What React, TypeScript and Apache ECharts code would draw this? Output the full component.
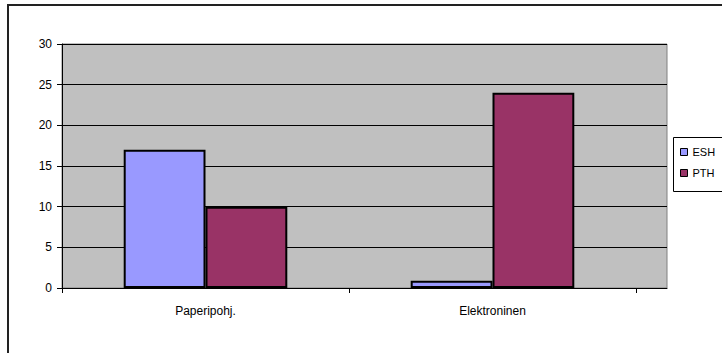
import React, { useEffect, useRef } from "react";
import * as echarts from "echarts";

const categories = ["Paperipohj.", "Elektroninen"];
const eshValues = [17, 0.9];
const pthValues = [10, 24];
const yTicks = { min: 0, max: 30, interval: 5 };

export default function App() {
  const ref = useRef<HTMLDivElement>(null);
  useEffect(() => {
    document.body.style.margin = "0";
    const chart = echarts.init(ref.current!, null, { renderer: "svg" });
    const font = "'Liberation Sans', Arial, sans-serif";
    chart.setOption({
      animation: false,
      backgroundColor: "#ffffff",
      textStyle: { fontFamily: font },
      graphic: [
        {
          type: "rect",
          shape: { x: 8, y: 5, width: 800, height: 400 },
          style: { fill: "none", stroke: "#222", lineWidth: 2 },
          silent: true,
          z: 0,
        },
        {
          type: "rect",
          shape: { x: 673.5, y: 137.5, width: 100, height: 54 },
          style: { fill: "#fff", stroke: "#000", lineWidth: 1 },
          silent: true,
          z: 0,
        },
      ],
      grid: [
        {
          left: 62,
          top: 44,
          width: 574,
          height: 244,
          show: false,
          containLabel: false,
        },
        {
          left: 62,
          top: 44,
          width: 605,
          height: 244,
          show: true,
          backgroundColor: "#C0C0C0",
          borderColor: "#808080",
          borderWidth: 1,
          containLabel: false,
        },
      ],
      legend: {
        orient: "vertical",
        left: 680,
        top: 146,
        itemWidth: 7,
        itemHeight: 7,
        itemGap: 9,
        icon: "rect",
        padding: 0,
        z: 5,
        itemStyle: { borderColor: "#000", borderWidth: 1 },
        textStyle: { fontFamily: font, fontSize: 11, color: "#000", lineHeight: 12 },
        data: ["ESH", "PTH"],
      },
      xAxis: [
        {
          type: "category",
          gridIndex: 0,
          data: categories,
          z: 3,
          axisLine: { show: true, lineStyle: { color: "#000", width: 1 } },
          axisTick: { show: true, length: 5, lineStyle: { color: "#000" } },
          axisLabel: { color: "#000", fontSize: 12, margin: 17, fontFamily: font },
          splitLine: { show: false },
        },
        {
          type: "value",
          gridIndex: 1,
          min: 0,
          max: 1,
          z: 3,
          axisLine: { show: true, onZero: false, lineStyle: { color: "#000", width: 1 } },
          axisTick: { show: false },
          axisLabel: { show: false },
          splitLine: { show: false },
        },
      ],
      yAxis: [
        {
          type: "value",
          gridIndex: 0,
          min: yTicks.min,
          max: yTicks.max,
          interval: yTicks.interval,
          axisLine: { show: false },
          axisTick: { show: false },
          axisLabel: { show: false },
          splitLine: { show: false },
        },
        {
          type: "value",
          gridIndex: 1,
          min: yTicks.min,
          max: yTicks.max,
          interval: yTicks.interval,
          z: 3,
          axisLine: { show: true, lineStyle: { color: "#000", width: 1 } },
          axisTick: { show: true, length: 5, lineStyle: { color: "#000" } },
          axisLabel: { color: "#000", fontSize: 12, margin: 10, fontFamily: font },
          splitLine: { show: true, lineStyle: { color: "#000", width: 1 } },
        },
      ],
      series: [
        {
          name: "ESH",
          type: "bar",
          xAxisIndex: 0,
          yAxisIndex: 0,
          data: eshValues,
          barGap: "0%",
          barCategoryGap: "43%",
          z: 4,
          itemStyle: { color: "#9999FF", borderColor: "#000", borderWidth: 2 },
        },
        {
          name: "PTH",
          type: "bar",
          xAxisIndex: 0,
          yAxisIndex: 0,
          data: pthValues,
          barGap: "0%",
          barCategoryGap: "43%",
          z: 4,
          itemStyle: { color: "#993366", borderColor: "#000", borderWidth: 2 },
        },
      ],
    });
    return () => chart.dispose();
  }, []);
  return <div ref={ref} style={{ width: 722, height: 353 }} />;
}
